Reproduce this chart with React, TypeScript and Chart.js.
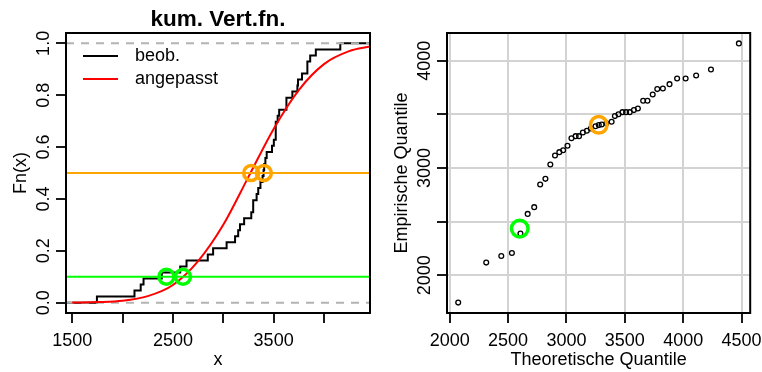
import React, { useEffect, useRef } from 'react';
import { Chart, registerables } from 'chart.js';
Chart.register(...registerables);

const FONT = '"Liberation Sans", Arial, Helvetica, sans-serif';

const empirical = [1745, 2118, 2180, 2208, 2389, 2572, 2635, 2846, 2899, 3033, 3117, 3148, 3166, 3207, 3278, 3297, 3297, 3331, 3347, 3369, 3390, 3400, 3406, 3418, 3431, 3484, 3502, 3521, 3521, 3521, 3540, 3555, 3627, 3627, 3686, 3736, 3742, 3782, 3835, 3835, 3863, 3919, 4162];
// Theoretical quantiles (Q-Q plot x values)
const theoretical = [2073, 2313, 2442, 2533, 2606, 2668, 2724, 2775, 2820, 2862, 2902, 2939, 2972, 3009, 3043, 3079, 3108, 3141, 3175, 3209, 3249, 3277, 3302, 3342, 3387, 3415, 3446, 3480, 3511, 3542, 3578, 3612, 3657, 3694, 3739, 3778, 3826, 3883, 3948, 4021, 4111, 4238, 4477];
// Fitted distribution function
const fitX = [1500, 1750, 2000, 2250, 2500, 2750, 3000, 3250, 3500, 3750, 4000, 4250, 4460];
const fitF = [0.0003, 0.002, 0.007, 0.025, 0.068, 0.16, 0.3, 0.485, 0.67, 0.82, 0.92, 0.97, 0.988];
// Quantile markers
const quantLevels = [0.1, 0.5];
const quantTheo = [2600, 3277];
const quantEmp = [2435, 3403];
const quantColors = ['#00FF00', '#FFA500'];
// Axes
const ecdfXRange = [1438, 4457];
const ecdfYRange = [-0.04, 1.04];
const ecdfXTicks = [1500, 2000, 2500, 3000, 3500, 4000];
const ecdfXLabels = [1500, 2500, 3500];
const ecdfYTicks = [0, 0.2, 0.4, 0.6, 0.8, 1.0];
const qqXRange = [1977, 4574];
const qqYRange = [1648, 4259];
const qqXTicks = [2000, 2500, 3000, 3500, 4000, 4500];
const qqYTicks = [2000, 2500, 3000, 3500, 4000];
const qqYLabels = [2000, 3000, 4000];

const legendLabels = ['beob.', 'angepasst'];
const legendColors = ['#000000', '#FF0000'];

function axis(range: number[], ticks: number[], gridOn: boolean, sizeProp: string, size: number) {
  return {
    type: 'linear',
    min: range[0],
    max: range[1],
    afterBuildTicks: (s: any) => { s.ticks = ticks.map((v) => ({ value: v })); },
    afterFit: (s: any) => { s[sizeProp] = size; },
    ticks: { display: false, autoSkip: false },
    grid: {
      display: true,
      drawOnChartArea: gridOn,
      color: '#d3d3d3',
      lineWidth: 2,
      drawTicks: true,
      tickLength: 10,
      tickColor: '#000000',
      tickWidth: 1.8,
    },
    border: { display: false },
  };
}

interface DecorCfg {
  title?: string;
  xTitle: string;
  yTitle: string;
  xLabels: number[];
  yLabels: number[];
  fmtX: (v: number) => string;
  fmtY: (v: number) => string;
  legend?: boolean;
}

function makeDecor(cfg: DecorCfg) {
  return {
    id: 'decor',
    afterDraw(chart: any) {
      const { ctx, chartArea: a, scales } = chart;
      const cx = (a.left + a.right) / 2;
      const cy = (a.top + a.bottom) / 2;
      ctx.save();
      ctx.strokeStyle = '#000';
      ctx.lineWidth = 2;
      ctx.strokeRect(a.left, a.top, a.right - a.left, a.bottom - a.top);
      ctx.fillStyle = '#000';
      ctx.font = `18px ${FONT}`;
      ctx.textAlign = 'center';
      ctx.textBaseline = 'alphabetic';
      cfg.xLabels.forEach((v) => {
        ctx.fillText(cfg.fmtX(v), scales.x.getPixelForValue(v), a.bottom + 32.5);
      });
      cfg.yLabels.forEach((v) => {
        ctx.save();
        ctx.translate(a.left - 16.8, scales.y.getPixelForValue(v));
        ctx.rotate(-Math.PI / 2);
        ctx.fillText(cfg.fmtY(v), 0, 0);
        ctx.restore();
      });
      ctx.fillText(cfg.xTitle, cx, a.bottom + 51.8);
      ctx.save();
      ctx.translate(a.left - 40.5, cy);
      ctx.rotate(-Math.PI / 2);
      ctx.fillText(cfg.yTitle, 0, 0);
      ctx.restore();
      if (cfg.title) {
        ctx.font = `bold 22.5px ${FONT}`;
        ctx.fillText(cfg.title, cx, a.top - 7);
      }
      if (cfg.legend) {
        ctx.font = `18px ${FONT}`;
        ctx.textAlign = 'left';
        ctx.textBaseline = 'middle';
        legendLabels.forEach((lab, i) => {
          const y = a.top + 23 + i * 23;
          ctx.strokeStyle = legendColors[i];
          ctx.lineWidth = 2;
          ctx.beginPath();
          ctx.moveTo(a.left + 17, y);
          ctx.lineTo(a.left + 52, y);
          ctx.stroke();
          ctx.fillStyle = '#000';
          ctx.fillText(lab, a.left + 69, y);
        });
      }
      ctx.restore();
    },
  };
}

function baseOptions(scales: any) {
  return {
    responsive: false,
    animation: false as const,
    devicePixelRatio: 1,
    events: [] as any[],
    layout: { padding: { top: 33, right: 8, left: 0, bottom: 0 } },
    plugins: { legend: { display: false }, tooltip: { enabled: false }, title: { display: false } },
    scales,
  };
}

function buildEcdf(canvas: HTMLCanvasElement) {
  const n = empirical.length;
  const sorted = [...empirical].sort((p, q) => p - q);
  const ecdfPts = [
    { x: ecdfXRange[0], y: 0 },
    ...sorted.map((v, i) => ({ x: v, y: (i + 1) / n })),
    { x: ecdfXRange[1], y: 1 },
  ];
  const fitPts = fitX.map((x, i) => ({ x, y: fitF[i] }));
  const datasets: any[] = [];
  // top-most first
  quantLevels.forEach((lv, i) => {
    datasets.push({
      data: [{ x: quantEmp[i], y: lv }, { x: quantTheo[i], y: lv }],
      showLine: false,
      pointRadius: 7.5,
      pointBorderWidth: 3.5,
      pointBorderColor: quantColors[i],
      pointBackgroundColor: 'rgba(0,0,0,0)',
    });
  });
  quantLevels.forEach((lv, i) => {
    datasets.push({
      data: [{ x: ecdfXRange[0], y: lv }, { x: ecdfXRange[1], y: lv }],
      showLine: true,
      borderColor: quantColors[i],
      borderWidth: 2,
      pointRadius: 0,
    });
  });
  datasets.push({
    data: fitPts,
    showLine: true,
    borderColor: '#FF0000',
    borderWidth: 2,
    pointRadius: 0,
    cubicInterpolationMode: 'monotone',
  });
  [0, 1].forEach((lv) => {
    datasets.push({
      data: [{ x: ecdfXRange[0], y: lv }, { x: ecdfXRange[1], y: lv }],
      showLine: true,
      borderColor: '#b3b3b3',
      borderWidth: 2,
      borderDash: [8, 7],
      pointRadius: 0,
    });
  });
  datasets.push({
    data: ecdfPts,
    showLine: true,
    stepped: 'before',
    borderColor: '#000000',
    borderWidth: 2,
    pointRadius: 0,
  });
  return new Chart(canvas, {
    type: 'scatter',
    data: { datasets },
    options: baseOptions({
      x: axis(ecdfXRange, ecdfXTicks, false, 'height', 59),
      y: axis(ecdfYRange, ecdfYTicks, false, 'width', 66),
    }) as any,
    plugins: [
      makeDecor({
        title: 'kum. Vert.fn.',
        xTitle: 'x',
        yTitle: 'Fn(x)',
        xLabels: ecdfXLabels,
        yLabels: ecdfYTicks,
        fmtX: (v) => String(v),
        fmtY: (v) => v.toFixed(1),
        legend: true,
      }),
    ],
  });
}

function buildQQ(canvas: HTMLCanvasElement) {
  const sorted = [...empirical].sort((p, q) => p - q);
  const datasets: any[] = [
    {
      data: quantTheo.map((t, i) => ({ x: t, y: quantEmp[i] })),
      showLine: false,
      pointRadius: 8.3,
      pointBorderWidth: 3.5,
      pointBorderColor: quantColors,
      pointBackgroundColor: 'rgba(0,0,0,0)',
    },
    {
      data: theoretical.map((t, i) => ({ x: t, y: sorted[i] })),
      showLine: false,
      pointRadius: 2.4,
      pointBorderWidth: 1.3,
      pointBorderColor: '#000000',
      pointBackgroundColor: 'rgba(0,0,0,0)',
    },
  ];
  return new Chart(canvas, {
    type: 'scatter',
    data: { datasets },
    options: baseOptions({
      x: axis(qqXRange, qqXTicks, true, 'height', 59),
      y: axis(qqYRange, qqYTicks, true, 'width', 66),
    }) as any,
    plugins: [
      makeDecor({
        xTitle: 'Theoretische Quantile',
        yTitle: 'Empirische Quantile',
        xLabels: qqXTicks,
        yLabels: qqYLabels,
        fmtX: (v) => String(v),
        fmtY: (v) => String(v),
      }),
    ],
  });
}

function Panel({ build }: { build: (c: HTMLCanvasElement) => Chart }) {
  const ref = useRef<HTMLCanvasElement>(null);
  useEffect(() => {
    const ch = build(ref.current!);
    return () => ch.destroy();
  }, [build]);
  return <canvas ref={ref} width={381} height={372} style={{ display: 'block', width: 381, height: 372 }} />;
}

export default function App() {
  return (
    <div style={{ position: 'absolute', left: 0, top: 0, width: 762, height: 372, display: 'flex', background: '#fff', overflow: 'hidden' }}>
      <Panel build={buildEcdf} />
      <Panel build={buildQQ} />
    </div>
  );
}
